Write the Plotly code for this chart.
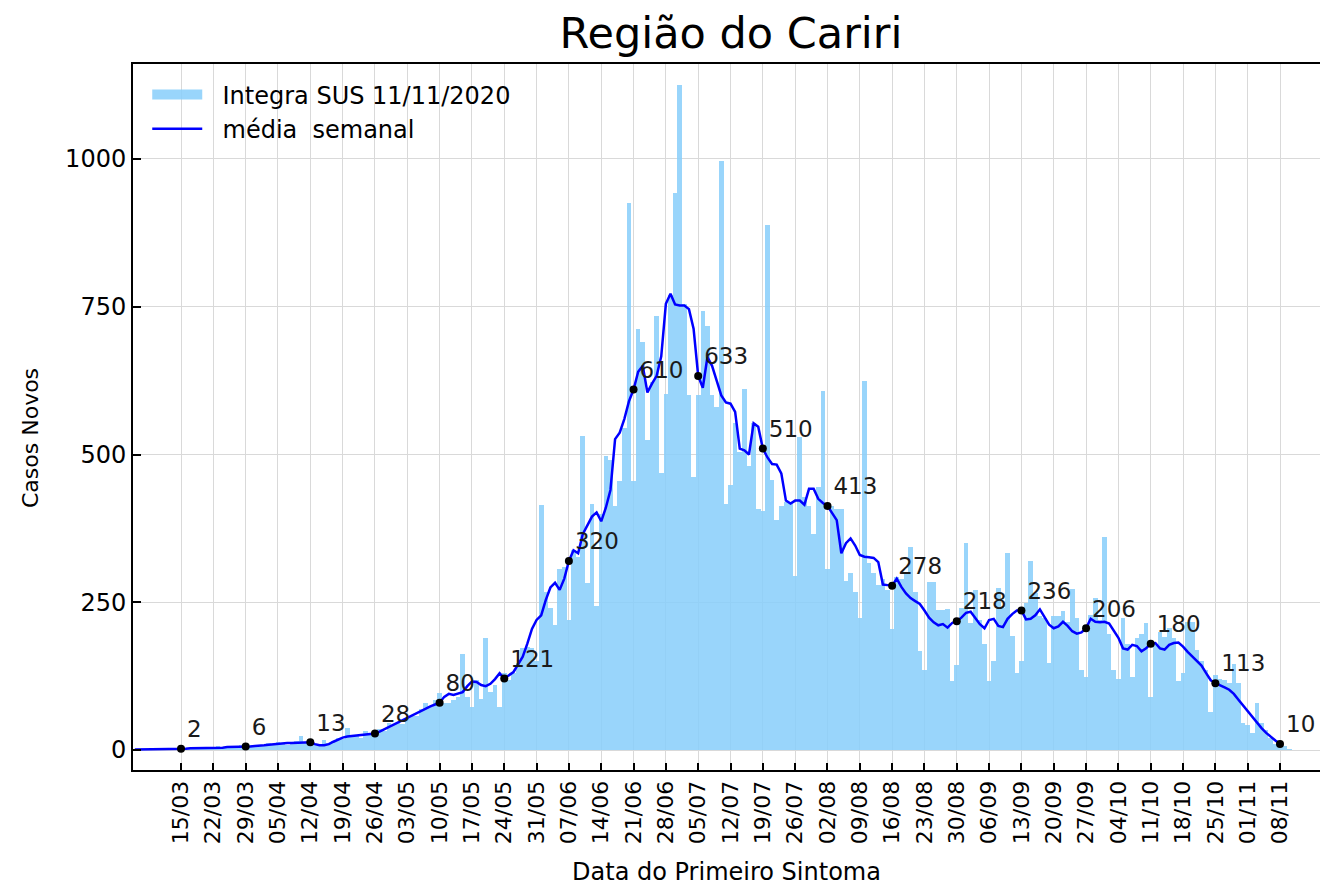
import pandas as pd
import plotly.graph_objects as go

YEAR = 2020
START = "2020-03-05"

# Daily new cases (Integra SUS 11/11/2020), from 05/03 to 10/11
cases_mar = [0, 1, 0, 2, 1, 0, 2, 1, 3, 2,
             2, 3, 1, 4, 2, 5, 3, 4, 6, 3, 7, 5, 6, 8, 4, 9, 7]
cases_apr = [9, 6, 12, 10, 14, 11, 9, 13, 15, 23,
             12, 14, 8, 6, 17, 12, 15, 20, 18, 38,
             22, 25, 20, 32, 26, 30, 35, 33, 45, 42]
cases_may = [48, 44, 55, 60, 58, 70, 79, 72, 85,
             96, 79, 80, 85, 90, 162, 90, 73, 118, 87, 190,
             99, 110, 73, 130, 118, 130, 147, 172, 175, 172, 150]
cases_jun = [415, 268, 240, 212, 307, 310, 220, 338, 327, 531,
             282, 416, 243, 400, 498, 490, 413, 455, 545, 926,
             455, 713, 691, 525, 622, 735, 469, 603, 770, 943]
cases_jul = [1126, 754, 600, 462, 600, 743, 717, 600, 581, 996,
             416, 448, 553, 504, 610, 481, 553, 407, 404, 889,
             457, 389, 413, 419, 420, 295, 530, 428, 413, 366, 445]
cases_aug = [608, 306, 413, 407, 407, 286, 300, 268, 223, 625,
             317, 300, 280, 290, 270, 204, 293, 290, 300, 344,
             268, 168, 135, 285, 285, 237, 237, 238, 116, 144, 240]
cases_sep = [350, 215, 270, 220, 180, 117, 150, 274, 240, 334,
             193, 130, 150, 248, 320, 265, 226, 223, 147, 226,
             226, 236, 217, 272, 223, 135, 124, 228, 257, 220]
cases_oct = [360, 197, 135, 121, 223, 180, 124, 189, 197, 215,
             89, 180, 200, 192, 206, 189, 116, 130, 217, 217,
             169, 150, 135, 65, 127, 121, 118, 113, 146, 113, 45]
cases_nov = [42, 28, 80, 45, 34, 20, 11, 7, 6, 2]

# Weekly (7-day) moving average, from 05/03 to 08/11
media_mar = [1, 1, 1, 1, 1, 1, 1, 2, 2, 2,
             2, 2, 3, 3, 3, 3, 4, 4, 4, 4, 5, 5, 5, 6, 6, 6, 7]
media_apr = [7, 8, 9, 10, 11, 11, 12, 12, 12, 12,
             13, 13, 10, 8, 8, 10, 14, 18, 21, 23,
             24, 25, 25, 26, 27, 28, 31, 35, 39, 43]
media_may = [47, 51, 55, 58, 62, 66, 70, 74, 77,
             80, 90, 95, 93, 96, 98, 108, 116, 115, 110, 108,
             112, 120, 130, 121, 127, 132, 145, 158, 180, 205, 220]
media_jun = [228, 254, 275, 283, 271, 290, 320, 338, 333, 365,
             380, 395, 402, 387, 410, 440, 526, 537, 560, 590,
             610, 640, 650, 605, 620, 633, 666, 755, 772, 754]
media_jul = [752, 752, 746, 713, 633, 613, 665, 650, 625, 600,
             588, 586, 572, 510, 507, 500, 553, 547, 510, 495,
             484, 483, 468, 422, 417, 422, 422, 415, 442, 442, 425]
media_aug = [418, 413, 400, 389, 333, 350, 358, 346, 330, 327,
             326, 325, 318, 280, 279, 278, 290, 276, 265, 257,
             252, 247, 236, 224, 216, 211, 213, 207, 215, 218, 224]
media_sep = [232, 234, 223, 213, 206, 220, 222, 210, 208, 222,
             230, 236, 236, 221, 222, 228, 238, 225, 212, 206,
             209, 217, 210, 201, 197, 199, 206, 222, 217, 216]
media_oct = [217, 214, 203, 190, 172, 170, 178, 176, 167, 172,
             180, 181, 172, 170, 178, 181, 182, 175, 166, 158,
             150, 143, 130, 118, 113, 110, 106, 102, 95, 85, 75]
media_nov = [65, 55, 45, 37, 29, 22, 16, 10]

tick_labels = ["15/03", "22/03", "29/03", "05/04", "12/04", "19/04", "26/04",
               "03/05", "10/05", "17/05", "24/05", "31/05", "07/06", "14/06",
               "21/06", "28/06", "05/07", "12/07", "19/07", "26/07", "02/08",
               "09/08", "16/08", "23/08", "30/08", "06/09", "13/09", "20/09",
               "27/09", "04/10", "11/10", "18/10", "25/10", "01/11", "08/11"]
y_ticks = [0, 250, 500, 750, 1000]

cases = (cases_mar + cases_apr + cases_may + cases_jun + cases_jul +
         cases_aug + cases_sep + cases_oct + cases_nov)
media = (media_mar + media_apr + media_may + media_jun + media_jul +
         media_aug + media_sep + media_oct + media_nov)

dates_cases = pd.date_range(START, periods=len(cases), freq="D")
dates_media = pd.date_range(START, periods=len(media), freq="D")
tick_dates = [pd.Timestamp(f"{YEAR}-{t[3:5]}-{t[0:2]}") for t in tick_labels]

media_s = pd.Series(media, index=dates_media)
lbl_dates = tick_dates[::2]
lbl_vals = [int(media_s[d]) for d in lbl_dates]

BAR_COLOR = "rgba(135,206,250,0.85)"
FONT = "DejaVu Sans"
NB = "\u00a0"

fig = go.Figure()
fig.add_trace(go.Bar(x=dates_cases, y=cases, name="Integra SUS 11/11/2020",
                     marker=dict(color=BAR_COLOR, line=dict(width=0)),
                     showlegend=False))
# legend proxy for the bars (wide swatch like the original)
fig.add_trace(go.Scatter(x=[None], y=[None], mode="lines",
                         name=NB * 2 + "Integra SUS 11/11/2020",
                         line=dict(color=BAR_COLOR, width=18)))
fig.add_trace(go.Scatter(x=dates_media, y=media, mode="lines",
                         name=NB * 2 + "média" + NB + " semanal",
                         line=dict(color="#0000FF", width=2.5)))
fig.add_trace(go.Scatter(x=lbl_dates, y=lbl_vals, mode="markers+text",
                         marker=dict(color="black", size=8),
                         text=[str(v) for v in lbl_vals],
                         textposition="top right",
                         textfont=dict(size=23, color="#1a1a1a", family=FONT),
                         showlegend=False))

fig.update_layout(
    width=1320, height=887,
    margin=dict(l=133, r=0, t=64, b=117),
    paper_bgcolor="white", plot_bgcolor="white",
    bargap=0,
    font=dict(family=FONT, size=22, color="black"),
    title=dict(text="Região do Cariri", x=0.5538, xref="container",
               xanchor="center", y=1 - 33 / 887, yref="container",
               yanchor="middle", font=dict(size=43, color="black")),
    legend=dict(x=0.012, y=0.988, xanchor="left", yanchor="top",
                bgcolor="rgba(255,255,255,0)", font=dict(size=24),
                itemwidth=50, tracegroupgap=0),
    annotations=[dict(text="Casos Novos", xref="paper", yref="paper",
                      x=-(133 - 30) / 1187, y=(770 - 438) / 706,
                      xanchor="center", yanchor="middle", textangle=-90,
                      showarrow=False, font=dict(size=22, color="black"))],
)
fig.update_xaxes(
    type="date",
    range=["2020-03-04 14:24", "2020-11-16 15:50"],
    tickmode="array", tickvals=tick_dates, ticktext=tick_labels,
    tickangle=-90, tickfont=dict(size=22),
    ticks="inside", ticklen=7, tickwidth=1.5, tickcolor="black",
    showgrid=True, gridcolor="#d9d9d9", gridwidth=1,
    showline=True, linecolor="black", linewidth=2, mirror=True,
    zeroline=False,
    title=dict(text="Data do Primeiro Sintoma", font=dict(size=24), standoff=20),
)
fig.update_yaxes(
    range=[-33.8, 1160.7],
    tickmode="array", tickvals=y_ticks,
    tickfont=dict(size=24),
    ticks="inside", ticklen=8, tickwidth=1.5, tickcolor="black",
    showgrid=True, gridcolor="#d9d9d9", gridwidth=1,
    showline=True, linecolor="black", linewidth=2, mirror=False,
    zeroline=False,
)

fig.write_html("out.html", config={"displayModeBar": False},
               post_script="document.body.style.margin='0';")
